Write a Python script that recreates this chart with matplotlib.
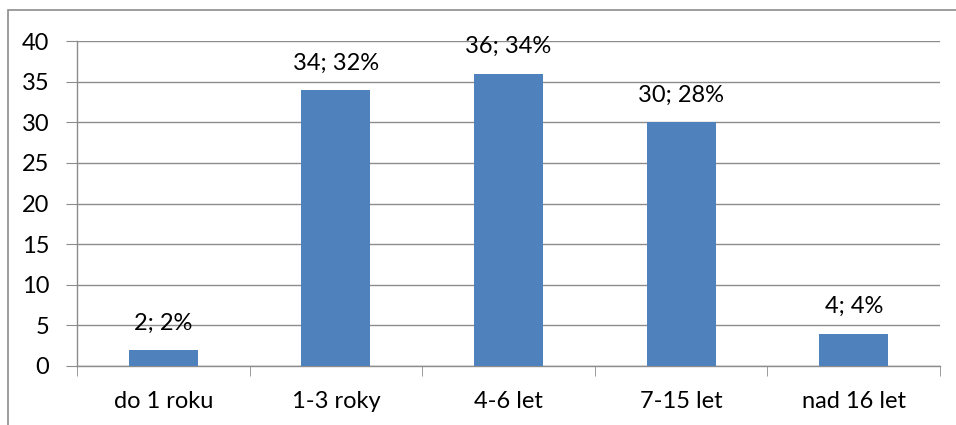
import matplotlib.pyplot as plt
from matplotlib.patches import Rectangle

categories = ['do 1 roku', '1-3 roky', '4-6 let', '7-15 let', 'nad 16 let']
counts = [2, 34, 36, 30, 4]
percents = [2, 32, 34, 28, 4]

plt.rcParams['font.family'] = ['Lato', 'DejaVu Sans']

fig = plt.figure(figsize=(9.56, 4.25), dpi=100)
W, H = 956, 425
ax = fig.add_axes([77 / W, 1 - 366 / H, (940 - 77) / W, (366 - 41) / H])

grid_col = '#8c8c8c'
bar_col = '#4f81bd'

x = list(range(len(categories)))
ax.bar(x, counts, width=0.4, color=bar_col, zorder=3)
for xi, c, p in zip(x, counts, percents):
    ax.text(xi, c + 2.5, f'{c}; {p}%', ha='center', va='baseline', fontsize=17, color='black')

ax.set_xlim(-0.5, len(categories) - 0.5)
ax.set_ylim(0, 40)
ax.set_yticks(range(0, 41, 5))
ax.yaxis.grid(True, color=grid_col, linewidth=1)
ax.set_axisbelow(True)
ax.tick_params(axis='y', length=8, color=grid_col, labelsize=17, pad=12)
ax.set_xticks(x)
ax.set_xticklabels(categories)
ax.set_xticks([i - 0.5 for i in range(len(categories) + 1)], minor=True)
ax.tick_params(axis='x', which='major', length=0, labelsize=17, pad=18)
ax.tick_params(axis='x', which='minor', length=7, color=grid_col)
for s in ['top', 'right']:
    ax.spines[s].set_visible(False)
for s in ['left', 'bottom']:
    ax.spines[s].set_color(grid_col)
    ax.spines[s].set_linewidth(1)

# outer chart border (continues past the right and bottom edge)
fig.patches.append(Rectangle((8 / W, -0.1), 1.1, 1 - 10 / H + 0.1, transform=fig.transFigure,
                             fill=False, edgecolor='#8c8c8c', linewidth=1.2))

fig.savefig('out.png', dpi=100)
